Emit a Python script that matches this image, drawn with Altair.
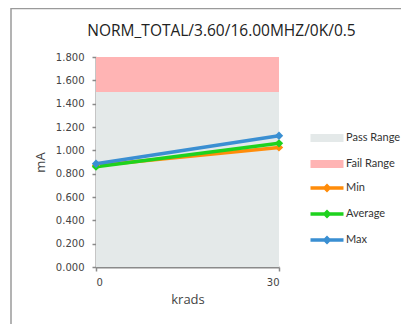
import altair as alt
import pandas as pd

# data
krads = [0, 30]
min_vals = [0.870, 1.025]
avg_vals = [0.860, 1.060]
max_vals = [0.885, 1.125]
series_names = ["Min", "Average", "Max"]
series_colors = ["#FF8C0A", "#1ED21E", "#3A8FD2"]
range_names = ["Pass Range", "Fail Range"]
range_lo = [0.0, 1.5]
range_hi = [1.5, 1.8]
range_colors = ["#E4E9E9", "#FFB4B4"]
y_ticks = [0.0, 0.2, 0.4, 0.6, 0.8, 1.0, 1.2, 1.4, 1.6, 1.8]
x_ticks = [0, 30]

rows = []
for name, vals in zip(series_names, [min_vals, avg_vals, max_vals]):
    for k, v in zip(krads, vals):
        rows.append({"krads": k, "mA": v, "series": name})
df = pd.DataFrame(rows)

rdf = pd.DataFrame({
    "name": range_names,
    "lo": range_lo,
    "hi": range_hi,
    "x0": [krads[0]] * 2,
    "x1": [krads[-1]] * 2,
})

FONT = "Open Sans"
LFONT = "Lato"
xscale = alt.Scale(domain=[0, 30], nice=False, zero=False)
yscale = alt.Scale(domain=[0, 1.8], nice=False)

rect_path = "M-3.3,-0.8L3.3,-0.8L3.3,0.8L-3.3,0.8Z"
line_path = "M-3.3,-0.35L3.3,-0.35L3.3,0.35L-3.3,0.35Z M0,-0.9L0.9,0L0,0.9L-0.9,0Z"

ranges = alt.Chart(rdf).mark_rect().encode(
    x=alt.X("x0:Q", scale=xscale,
            axis=alt.Axis(values=x_ticks, title="krads", format="d",
                          grid=False)),
    x2="x1:Q",
    y=alt.Y("lo:Q", scale=yscale,
            axis=alt.Axis(values=y_ticks, format=".3f", title="mA",
                          grid=False, labelOverlap=False, tickCount=10)),
    y2="hi:Q",
    fill=alt.Fill("name:N",
                  scale=alt.Scale(domain=range_names, range=range_colors),
                  legend=alt.Legend(title=None, orient="none",
                                    legendX=225.5, legendY=75.5,
                                    symbolType=rect_path, symbolSize=100,
                                    symbolStrokeWidth=0,
                                    labelOffset=13.5, rowPadding=14,
                                    labelFontSize=11, labelFont=LFONT,
                                    labelColor="#333")),
)

series_legend = alt.Legend(title=None, orient="none",
                           legendX=225.5, legendY=125.5,
                           symbolType=line_path, symbolSize=100,
                           symbolStrokeWidth=0,
                           labelOffset=13.5, rowPadding=14,
                           labelFontSize=11, labelFont=LFONT,
                           labelColor="#333")
cscale = alt.Scale(domain=series_names, range=series_colors)

lines = alt.Chart(df).mark_line(strokeWidth=3.5).encode(
    x=alt.X("krads:Q", scale=xscale),
    y=alt.Y("mA:Q", scale=yscale),
    color=alt.Color("series:N", scale=cscale, legend=series_legend),
)

points = alt.Chart(df).mark_point(filled=True, shape="diamond", size=70,
                                  opacity=1).encode(
    x=alt.X("krads:Q", scale=xscale),
    y=alt.Y("mA:Q", scale=yscale),
    color=alt.Color("series:N", scale=cscale, legend=series_legend),
)

frame = alt.Chart(pd.DataFrame({"a": [0]})).mark_rect(
    fill=None, fillOpacity=0, stroke="#9A9A9A", strokeWidth=1.5,
    clip=False).encode(
    x=alt.value(-85), x2=alt.value(360), y=alt.value(-48.5),
    y2=alt.value(330))

chart = alt.layer(ranges, lines, points, frame).properties(
    width=183, height=210,
    autosize=alt.AutoSizeParams(type="none"),
    padding={"left": 88, "top": 49, "right": 122, "bottom": 57},
    title=alt.TitleParams("NORM_TOTAL/3.60/16.00MHZ/0K/0.5", font=FONT,
                          fontSize=15.5, fontWeight="normal", color="#222",
                          anchor="middle", frame="group", dx=34, offset=-32),
).configure_view(stroke=None).configure_axis(
    domainColor="#8A8A8A", domainWidth=2, tickColor="#8A8A8A", tickSize=4,
    tickWidth=1.5, labelFont="DejaVu Sans", labelFontSize=10,
    labelColor="#444", titleFont=FONT, titleFontSize=13,
    titleFontWeight="normal", titleColor="#444",
).configure_axisY(labelPadding=8, titlePadding=8, labelOverlap=False
).configure_axisX(labelPadding=6, titlePadding=6)

chart.save("out.html", embed_options={"renderer": "svg", "actions": False})
